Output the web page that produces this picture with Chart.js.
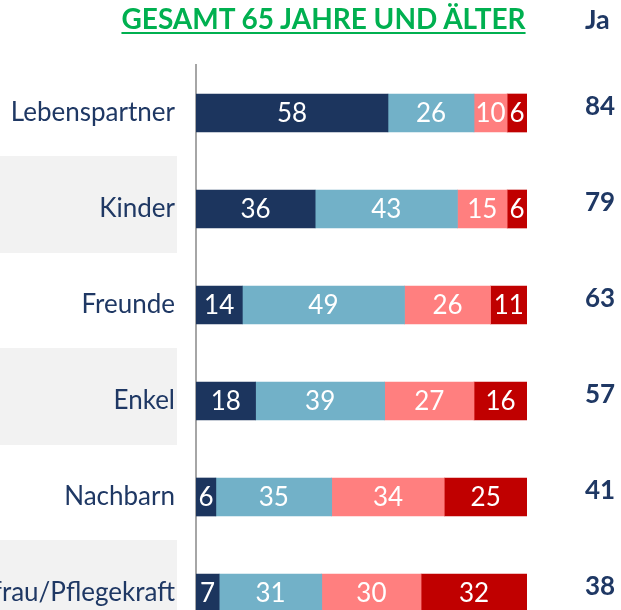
<!DOCTYPE html>
<html>
<head>
<meta charset="utf-8">
<script src="https://cdn.jsdelivr.net/npm/chart.js@4/dist/chart.umd.min.js"></script>
<style>
  html, body { margin: 0; padding: 0; background: #ffffff; overflow: hidden; width: 621px; height: 610px; }
  #wrap { position: relative; width: 621px; height: 660px; }
  #title { position: absolute; left: 0; width: 647px; top: 1px; text-align: center;
           font-family: Lato, "Open Sans", sans-serif; font-weight: bold; font-size: 28px;
           color: #00b050; text-decoration: underline; text-decoration-thickness: 2px; text-underline-offset: 3px; }
  #ja { position: absolute; left: 585px; top: 2px; font-family: Lato, "Open Sans", sans-serif;
        font-weight: bold; font-size: 27px; color: #1f3864; }
  canvas { position: absolute; left: 0; top: 0; }
</style>
</head>
<body>
<div id="wrap">
  <canvas id="c" width="621" height="660"></canvas>
  <div id="title">GESAMT 65 JAHRE UND ÄLTER</div>
  <div id="ja">Ja</div>
</div>
<script>
const categories = ["Lebenspartner", "Kinder", "Freunde", "Enkel", "Nachbarn", "Putzfrau/Pflegekraft"];
const seriesNames = ["sehr wichtig", "wichtig", "weniger wichtig", "gar nicht wichtig"];
const veryImportant = [58, 36, 14, 18, 6, 7];
const important = [26, 43, 49, 39, 35, 31];
const lessImportant = [10, 15, 26, 27, 34, 30];
const notImportant = [6, 6, 11, 16, 25, 32];
const jaTotals = [84, 79, 63, 57, 41, 38];
const colors = ["#1c355e", "#72b1c8", "#ff7f7f", "#c00000"];

const FONT = 'Lato, "Open Sans", sans-serif';

const bandPlugin = {
  id: 'bands',
  beforeDraw(chart) {
    const ctx = chart.ctx, y = chart.scales.y;
    ctx.save();
    ctx.fillStyle = '#f2f2f2';
    categories.forEach((c, i) => {
      if (i % 2 === 1) {
        const cy = y.getPixelForValue(i);
        ctx.fillRect(0, cy - 53, 177, 97);
      }
    });
    ctx.restore();
  }
};

const valuePlugin = {
  id: 'values',
  afterDatasetsDraw(chart) {
    const ctx = chart.ctx;
    ctx.save();
    ctx.textAlign = 'center';
    ctx.textBaseline = 'middle';
    ctx.font = '26px ' + FONT;
    ctx.fillStyle = '#ffffff';
    chart.data.datasets.forEach((ds, di) => {
      const meta = chart.getDatasetMeta(di);
      meta.data.forEach((bar, i) => {
        const cx = (bar.x + bar.base) / 2;
        ctx.fillText(String(ds.data[i]), cx, bar.y + 1);
      });
    });
    const y = chart.scales.y;
    ctx.font = 'bold 26px ' + FONT;
    ctx.fillStyle = '#1f3864';
    jaTotals.forEach((v, i) => {
      ctx.fillText(String(v), 600, y.getPixelForValue(i) - 6);
    });
    ctx.restore();
  }
};

new Chart(document.getElementById('c'), {
  type: 'bar',
  data: {
    labels: categories,
    datasets: [
      { label: seriesNames[0], data: veryImportant, backgroundColor: colors[0] },
      { label: seriesNames[1], data: important, backgroundColor: colors[1] },
      { label: seriesNames[2], data: lessImportant, backgroundColor: colors[2] },
      { label: seriesNames[3], data: notImportant, backgroundColor: colors[3] }
    ].map(d => Object.assign(d, { barThickness: 38, borderWidth: 0 }))
  },
  options: {
    indexAxis: 'y',
    responsive: false,
    animation: false,
    layout: { padding: { top: 65, right: 94, bottom: 19, left: 0 } },
    plugins: { legend: { display: false }, title: { display: false }, tooltip: { enabled: false } },
    scales: {
      x: { stacked: true, min: 0, max: 100, display: false },
      y: {
        stacked: true,
        afterFit(scale) { scale.width = 196; scale.paddingTop = 0; scale.paddingBottom = 0; },
        grid: { display: false, drawTicks: false },
        border: { display: true, color: '#a6a6a6', width: 2 },
        ticks: { padding: 21, color: '#1f3864', font: { family: FONT, size: 26 } }
      }
    }
  },
  plugins: [bandPlugin, valuePlugin]
});
</script>
</body>
</html>
